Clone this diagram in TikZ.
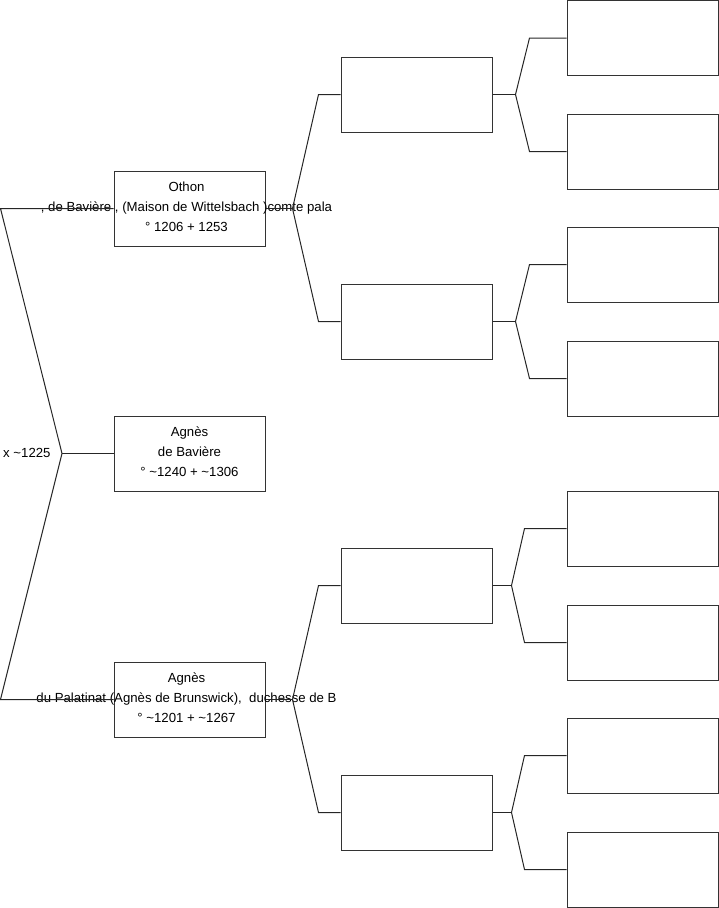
\documentclass[tikz,border=0pt]{standalone}
\usepackage{fontspec}
\setmainfont{Liberation Sans}
\tikzset{
  box/.style={draw=black!80, line width=1pt, minimum width=151pt, minimum height=75pt, inner sep=0pt},
  txt/.style={align=center, font=\fontsize{13.2}{20}\selectfont, inner sep=0pt, text=black},
  link/.style={draw=black!85, line width=1pt},
}
\begin{document}
\begin{tikzpicture}[x=1pt, y=-1pt]
\useasboundingbox (0,0) rectangle (719,908);
% level 1
\node[box] (o) at (189.5,208.5) {};
\node[txt] (ot) at ([xshift=-3pt,yshift=2pt]o.center) {Othon\\, de Bavière , (Maison de Wittelsbach )comte pala\\° 1206 + 1253};
\node[box] (b) at (189.5,453.5) {};
\node[txt] (bt) at ([yshift=2pt]b.center) {Agnès\\de Bavière\\° \textasciitilde1240 + \textasciitilde1306};
\node[box] (p) at (189.5,699.5) {};
\node[txt] (pt) at ([xshift=-3pt,yshift=2pt]p.center) {Agnès\\du Palatinat (Agnès de Brunswick),\ \ duchesse de B\\° \textasciitilde1201 + \textasciitilde1267};
\coordinate (m) at (62,453.5);
\node[txt, anchor=west] (x) at (3,452.5) {x \textasciitilde1225};
% level 2
\node[box] (A) at (416.5,94.5) {};
\node[box] (B) at (416.5,321.5) {};
\node[box] (C) at (416.5,585.5) {};
\node[box] (D) at (416.5,812.5) {};
% level 3
\node[box] (A1) at (642.5,38) {};
\node[box] (A2) at (642.5,151.5) {};
\node[box] (B1) at (642.5,264.5) {};
\node[box] (B2) at (642.5,378.5) {};
\node[box] (C1) at (642.5,528.5) {};
\node[box] (C2) at (642.5,642.5) {};
\node[box] (D1) at (642.5,755.5) {};
\node[box] (D2) at (642.5,869.5) {};
% links level 0 -> 1
\draw[link] (o.west) -- ([xshift=-113pt]o.west) -- (m) -- ([xshift=-113pt]p.west) -- (p.west);
\draw[link] (m) -- (b.west);
% level 1 -> 2
\draw[link] (o.east) -- ([xshift=27pt]o.east);
\draw[link] (A.west) -- ([xshift=-22pt]A.west) -- ([xshift=27pt]o.east) -- ([xshift=-22pt]B.west) -- (B.west);
\draw[link] (p.east) -- ([xshift=27pt]p.east);
\draw[link] (C.west) -- ([xshift=-22pt]C.west) -- ([xshift=27pt]p.east) -- ([xshift=-22pt]D.west) -- (D.west);
% level 2 -> 3
\draw[link] (A.east) -- ([xshift=23pt]A.east);
\draw[link] (A1.west) -- ([xshift=-37pt]A1.west) -- ([xshift=23pt]A.east) -- ([xshift=-37pt]A2.west) -- (A2.west);
\draw[link] (B.east) -- ([xshift=23pt]B.east);
\draw[link] (B1.west) -- ([xshift=-37pt]B1.west) -- ([xshift=23pt]B.east) -- ([xshift=-37pt]B2.west) -- (B2.west);
\draw[link] (C.east) -- ([xshift=19pt]C.east);
\draw[link] (C1.west) -- ([xshift=-42pt]C1.west) -- ([xshift=19pt]C.east) -- ([xshift=-42pt]C2.west) -- (C2.west);
\draw[link] (D.east) -- ([xshift=19pt]D.east);
\draw[link] (D1.west) -- ([xshift=-42pt]D1.west) -- ([xshift=19pt]D.east) -- ([xshift=-42pt]D2.west) -- (D2.west);
\end{tikzpicture}
\end{document}
